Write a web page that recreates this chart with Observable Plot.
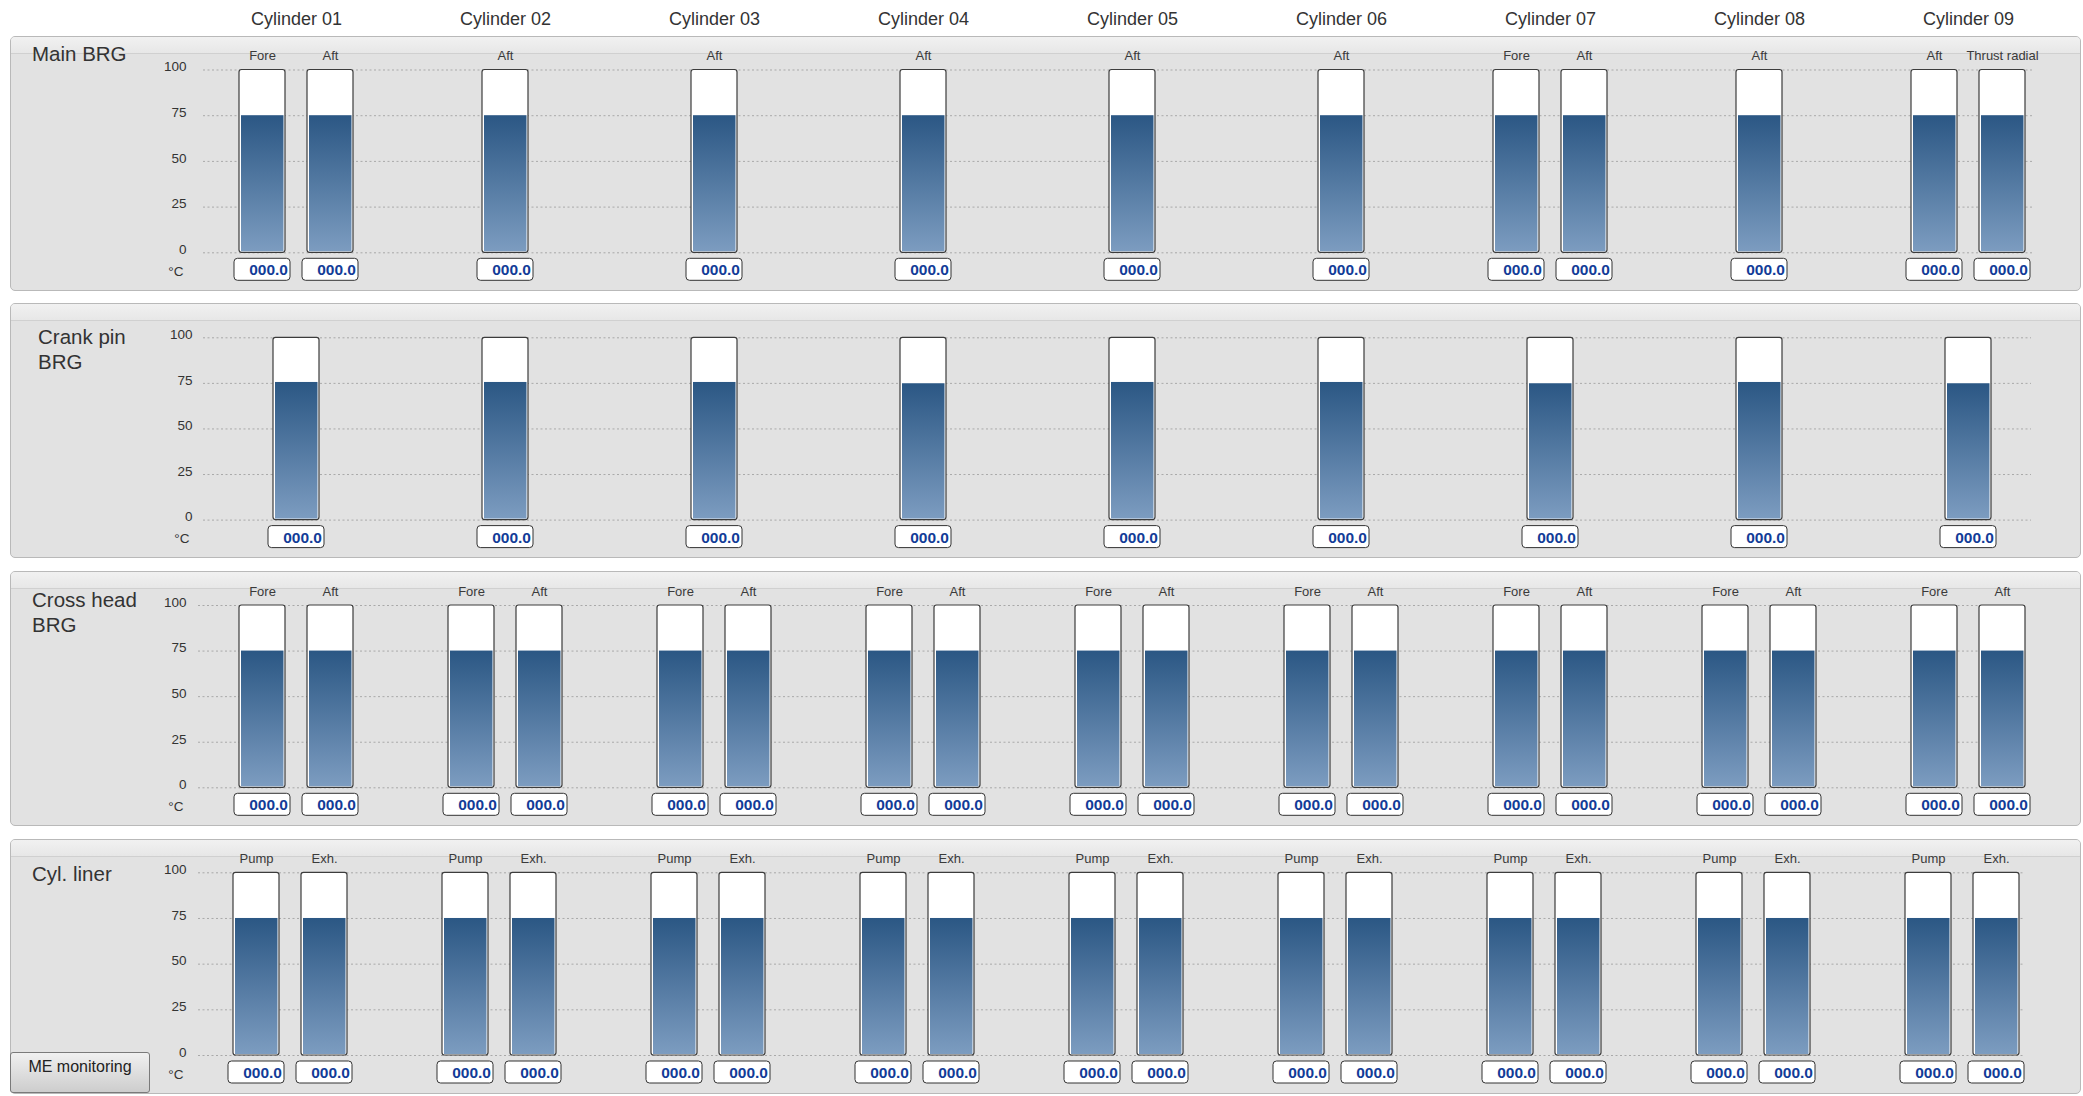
<!DOCTYPE html>
<html>
<head>
<meta charset="utf-8">
<script src="https://cdn.jsdelivr.net/npm/d3@7"></script>
<script src="https://cdn.jsdelivr.net/npm/@observablehq/plot@0.6"></script>
<style>
html, body { margin: 0; padding: 0; background: #ffffff; }
body { width: 2083px; height: 1096px; position: relative; overflow: hidden;
  font-family: "Liberation Sans", Arial, Helvetica, sans-serif; color: #333; }
.panel { position: absolute; left: 10px; width: 2071px; height: 255px; box-sizing: border-box;
  border: 1px solid #b9b9b9; border-radius: 5px; background: #e2e2e2; overflow: hidden; }
.panel .hdr { height: 16px; background: linear-gradient(#f1f1f1, #e7e7e7); border-bottom: 1px solid #d0d0d0; }
.title { position: absolute; font-size: 20.5px; line-height: 24.5px; color: #333; white-space: nowrap; }
.chart { position: absolute; left: 0; }
.chart svg { overflow: visible; }
.btn { position: absolute; left: 10px; top: 1052px; width: 140px; height: 41px; box-sizing: border-box;
  border: 1px solid #7a7a7a; border-radius: 3px; background: linear-gradient(#f0f0f0, #cdcdcd);
  font-size: 16px; line-height: 28px; text-align: center; color: #222; }
</style>
</head>
<body>
<script>
// ---------------- data ----------------
const cylinders = ["Cylinder 01", "Cylinder 02", "Cylinder 03", "Cylinder 04", "Cylinder 05",
                   "Cylinder 06", "Cylinder 07", "Cylinder 08", "Cylinder 09"];
const yTicks = [0, 25, 50, 75, 100];
const unitLabel = "°C";
const displayedReading = "000.0";

const mainBrgLabels = [["Fore", "Aft"], ["Aft"], ["Aft"], ["Aft"], ["Aft"], ["Aft"], ["Fore", "Aft"], ["Aft"], ["Aft", "Thrust radial"]];
const mainBrgValues = [[75, 75], [75], [75], [75], [75], [75], [75, 75], [75], [75, 75]];

const crankPinLabels = [[""], [""], [""], [""], [""], [""], [""], [""], [""]];
const crankPinValues = [[75.5], [75.5], [75.5], [74.8], [75.5], [75.5], [74.8], [75.5], [74.8]];

const crossHeadLabels = ["Fore", "Aft"];
const crossHeadFore = [75, 75, 75, 75, 75, 75, 75, 75, 75];
const crossHeadAft  = [75, 75, 75, 75, 75, 75, 75, 75, 75];

const cylLinerLabels = ["Pump", "Exh."];
const cylLinerPump = [75, 75, 75, 75, 75, 75, 75, 75, 75];
const cylLinerExh  = [75, 75, 75, 75, 75, 75, 75, 75, 75];

// ---------------- table building ----------------
function rowsFrom(labels, values) {
  return cylinders.flatMap((cyl, i) => labels[i].map((label, j) => ({
    cyl, label, value: values[i][j], reading: displayedReading,
    slot: labels[i].length === 1 ? "C" : (j === 0 ? "L" : "R")
  })));
}
const mainRows  = rowsFrom(mainBrgLabels, mainBrgValues);
const crankRows = rowsFrom(crankPinLabels, crankPinValues);
const crossRows = rowsFrom(cylinders.map(() => crossHeadLabels), cylinders.map((c, i) => [crossHeadFore[i], crossHeadAft[i]]));
const linerRows = rowsFrom(cylinders.map(() => cylLinerLabels), cylinders.map((c, i) => [cylLinerPump[i], cylLinerExh[i]]));

// ---------------- layout ----------------
const W = 2083;
const slotDx = {L: -34, C: 0, R: 34};
const panels = [
  {id: "main",  title: ["Main BRG"], titleX: 32, titleTop: 42, top: 36, svgTop: 0, height: 291,
   gridTop: 69.5, gridBottom: 252.3, gridLeft: 203, gridRight: 2032, tickPad: 17, shift: 0, rows: mainRows, headers: true},
  {id: "crank", title: ["Crank pin", "BRG"], titleX: 38, titleTop: 325, top: 303, svgTop: 303, height: 255,
   gridTop: 337.3, gridBottom: 519.6, gridLeft: 203, gridRight: 2031, tickPad: 11, shift: 0, rows: crankRows},
  {id: "cross", title: ["Cross head", "BRG"], titleX: 32, titleTop: 588, top: 571, svgTop: 571, height: 255,
   gridTop: 605, gridBottom: 787.3, gridLeft: 198, gridRight: 2025, tickPad: 12, shift: 0, rows: crossRows},
  {id: "liner", title: ["Cyl. liner"], titleX: 32, titleTop: 862, top: 839, svgTop: 839, height: 255,
   gridTop: 872.3, gridBottom: 1055, gridLeft: 198, gridRight: 2025, tickPad: 12, shift: -5.7, rows: linerRows}
];

function gradientDefs(id) {
  return () => {
    const defs = d3.create("svg:defs");
    const g = defs.append("linearGradient").attr("id", id)
      .attr("x1", 0).attr("y1", 0).attr("x2", 0).attr("y2", 1);
    g.append("stop").attr("offset", "0%").attr("stop-color", "#2b5784");
    g.append("stop").attr("offset", "100%").attr("stop-color", "#7c9cc0");
    return defs.node();
  };
}

function panelPlot(p) {
  const gid = "fillgrad-" + p.id;
  const slotMarks = ["L", "C", "R"].flatMap(slot => {
    const d = p.rows.filter(r => r.slot === slot);
    if (!d.length) return [];
    const dx = slotDx[slot];
    return [
      Plot.rect(d, {x1: "cyl", x2: "cyl", y1: 0, y2: 100, insetLeft: -23, insetRight: -23,
        fill: "#ffffff", stroke: "#3c3c3c", strokeWidth: 1.2, rx: 2.5, dx}),
      Plot.rect(d, {x1: "cyl", x2: "cyl", y1: 0, y2: "value", insetLeft: -21, insetRight: -21.5, insetBottom: 1,
        fill: `url(#${gid})`, dx}),
      Plot.text(d, {x: "cyl", y: 100, text: "label", dx, dy: -14, fontSize: 13, fill: "#3a3a3a"}),
      Plot.rect(d, {x1: "cyl", x2: "cyl", y1: 0, y2: 0, insetLeft: -28, insetRight: -28, insetTop: 6, insetBottom: -28,
        fill: "#ffffff", stroke: "#333333", strokeWidth: 1, rx: 3.5, dx}),
      Plot.text(d, {x: "cyl", y: 0, text: "reading", dx: dx + 25.5, dy: 17.5, textAnchor: "end",
        fontSize: 15.5, fontWeight: "bold", fill: "#123c98"})
    ];
  });
  const marks = [
    gradientDefs(gid),
    Plot.gridY({ticks: yTicks, stroke: "#a9a9a9", strokeOpacity: 1, strokeWidth: 1, strokeDasharray: "2,2.5"}),
    Plot.axisY({ticks: yTicks, tickSize: 0, tickPadding: p.tickPad, dy: -3, fontSize: 13.5, label: null, color: "#333"}),
    Plot.text([{t: unitLabel}], {text: "t", y: 0, frameAnchor: "left", dx: -(p.tickPad + 3), dy: 19,
      textAnchor: "end", fontSize: 13.5, fill: "#333"}),
    ...slotMarks
  ];
  if (p.headers) {
    marks.push(Plot.text(cylinders, {x: d => d, y: 100, dy: -50.5, fontSize: 18, fill: "#333"}));
  }
  return Plot.plot({
    width: W,
    height: p.height,
    marginLeft: p.gridLeft,
    marginRight: W - p.gridRight,
    marginTop: p.gridTop - p.svgTop,
    marginBottom: p.height - (p.gridBottom - p.svgTop),
    x: {type: "point", domain: cylinders, range: [294.6 + p.shift, 1969.5 + p.shift], padding: 0, axis: null},
    y: {domain: [0, 100]},
    style: {background: "transparent", fontFamily: "'Liberation Sans', Arial, Helvetica, sans-serif",
      fontSize: "13px", color: "#333", overflow: "visible"},
    marks
  });
}

for (const p of panels) {
  const panel = document.createElement("div");
  panel.className = "panel";
  panel.style.top = p.top + "px";
  panel.innerHTML = '<div class="hdr"></div>';
  document.body.appendChild(panel);
}
for (const p of panels) {
  const t = document.createElement("div");
  t.className = "title";
  t.style.left = p.titleX + "px";
  t.style.top = p.titleTop + "px";
  t.innerHTML = p.title.join("<br>");
  document.body.appendChild(t);
}
const btn = document.createElement("div");
btn.className = "btn";
btn.textContent = "ME monitoring";
document.body.appendChild(btn);

for (const p of panels) {
  const holder = document.createElement("div");
  holder.className = "chart";
  holder.style.top = p.svgTop + "px";
  holder.appendChild(panelPlot(p));
  document.body.appendChild(holder);
}
</script>
</body>
</html>
